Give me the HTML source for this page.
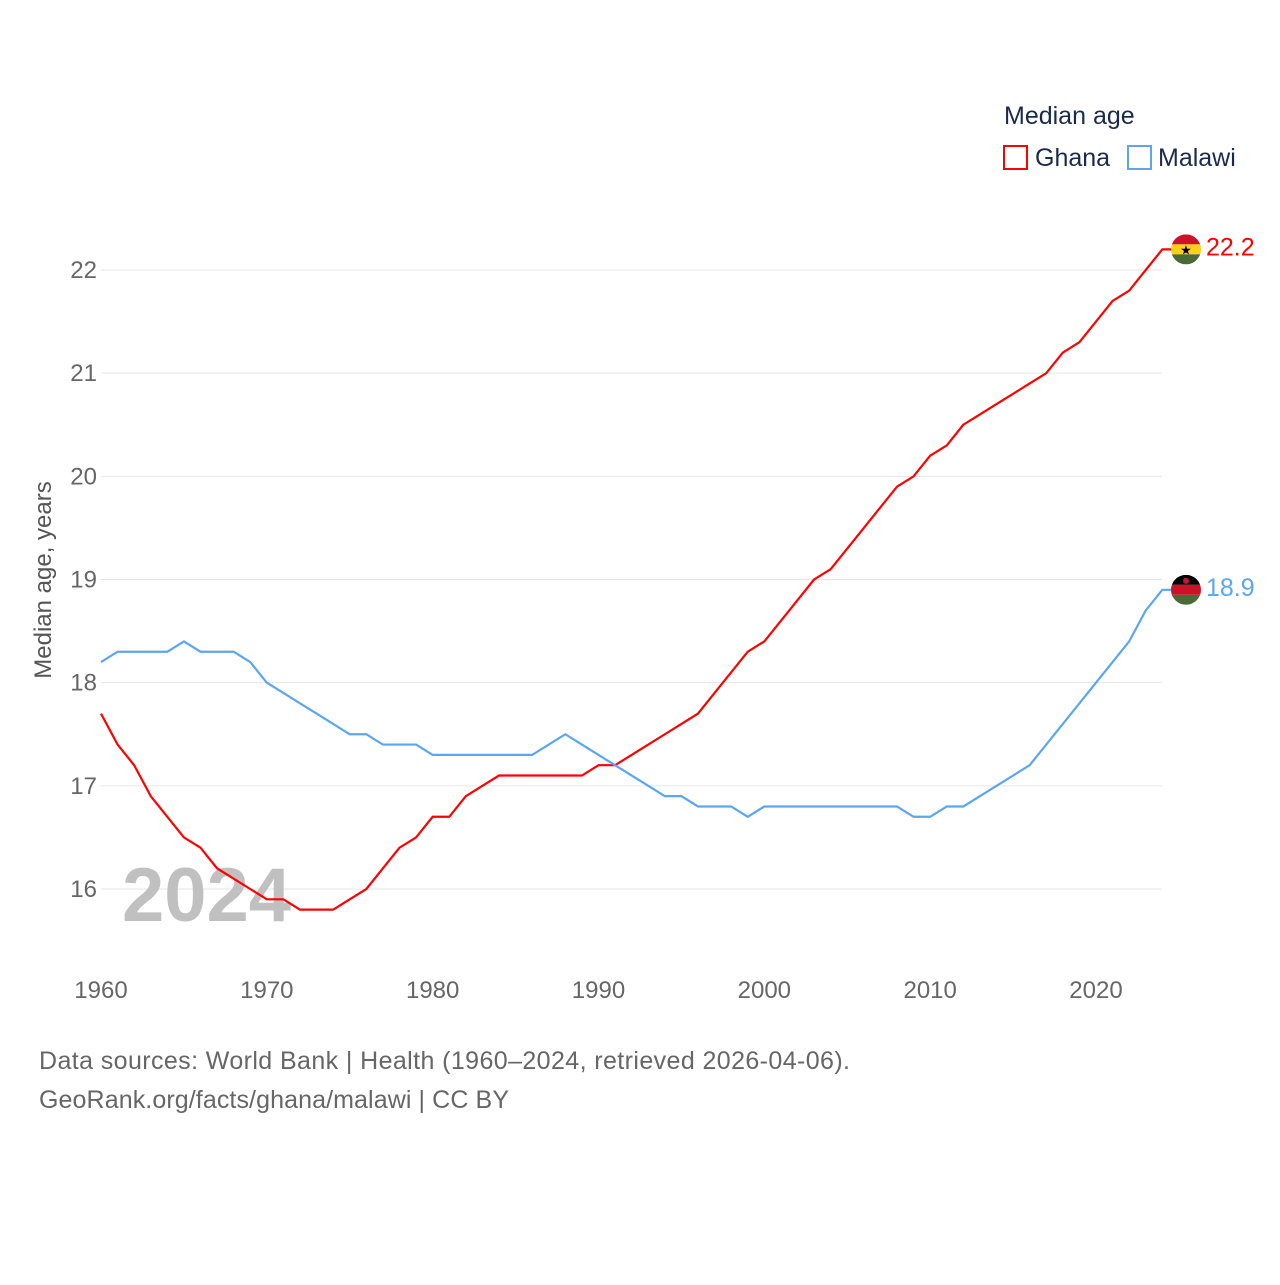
<!DOCTYPE html>
<html><head><meta charset="utf-8">
<style>
body{margin:0;background:#fff;font-family:"Liberation Sans",sans-serif;}
svg text{font-family:"Liberation Sans",sans-serif;}
</style></head>
<body>
<svg id="chart" width="1280" height="1280" viewBox="0 0 1280 1280" xmlns="http://www.w3.org/2000/svg">
<g id="grid"></g>
<g id="yticks"></g>
<g id="xticks"></g>
<text x="122" y="921" font-size="76" font-weight="bold" fill="#c0c0c0">2024</text>
<text transform="translate(51,580) rotate(-90)" text-anchor="middle" font-size="24" fill="#555">Median age, years</text>
<g id="series"></g>
<text x="1004" y="124" font-size="25" fill="#1a2a4a">Median age</text>
<g>
<rect x="1004" y="146" width="23" height="23" fill="none" stroke="#ff0000" stroke-width="2"/>
<text x="1035" y="166" font-size="25" fill="#1a2a4a">Ghana</text></g>
<g>
<rect x="1128" y="146" width="23" height="23" fill="none" stroke="#5ba6ee" stroke-width="2"/>
<text x="1158" y="166" font-size="25" fill="#1a2a4a">Malawi</text></g>
<text x="39" y="1069" font-size="25" fill="#666" textLength="811">Data sources: World Bank | Health (1960–2024, retrieved 2026-04-06).</text>
<text x="39" y="1108" font-size="25" fill="#666" textLength="470">GeoRank.org/facts/ghana/malawi | CC BY</text>
</svg>
<script>
const years=[];for(let y=1960;y<=2024;y++)years.push(y);
const ghana=[17.7,17.4,17.2,16.9,16.7,16.5,16.4,16.2,16.1,16.0,15.9,15.9,15.8,15.8,15.8,15.9,16.0,16.2,16.4,16.5,16.7,16.7,16.9,17.0,17.1,17.1,17.1,17.1,17.1,17.1,17.2,17.2,17.3,17.4,17.5,17.6,17.7,17.9,18.1,18.3,18.4,18.6,18.8,19.0,19.1,19.3,19.5,19.7,19.9,20.0,20.2,20.3,20.5,20.6,20.7,20.8,20.9,21.0,21.2,21.3,21.5,21.7,21.8,22.0,22.2];
const malawi=[18.2,18.3,18.3,18.3,18.3,18.4,18.3,18.3,18.3,18.2,18.0,17.9,17.8,17.7,17.6,17.5,17.5,17.4,17.4,17.4,17.3,17.3,17.3,17.3,17.3,17.3,17.3,17.4,17.5,17.4,17.3,17.2,17.1,17.0,16.9,16.9,16.8,16.8,16.8,16.7,16.8,16.8,16.8,16.8,16.8,16.8,16.8,16.8,16.8,16.7,16.7,16.8,16.8,16.9,17.0,17.1,17.2,17.4,17.6,17.8,18.0,18.2,18.4,18.7,18.9];
const yTicks=[16,17,18,19,20,21,22];
const xTicks=[1960,1970,1980,1990,2000,2010,2020];
const X=y=>101+(y-1960)*(1096-101)/60;
const Y=v=>889-(v-16)*(889-270)/6;
const NS="http://www.w3.org/2000/svg";
function mk(t,a,p){const e=document.createElementNS(NS,t);for(const k in a)e.setAttribute(k,a[k]);p.appendChild(e);return e;}
const grid=document.getElementById('grid'),yt=document.getElementById('yticks'),xt=document.getElementById('xticks'),ser=document.getElementById('series');
yTicks.forEach(v=>{
 const l=mk('line',{x1:101,x2:1162,y1:Y(v),y2:Y(v),stroke:'#e6e6e6','stroke-width':1},grid);
 
 
 const t=mk('text',{x:97,y:Y(v)+8,'text-anchor':'end','font-size':24,fill:'#666'},yt);
 t.textContent=v;
 
 
});
xTicks.forEach(v=>{
 const t=mk('text',{x:X(v),y:998,'text-anchor':'middle','font-size':24,fill:'#666'},xt);
 t.textContent=v;
 
 
});
function line(vals,color,name,label,flag){
 const pts=vals.map((v,i)=>X(years[i])+','+Y(v));
 const lv=vals[vals.length-1];
 pts.push((X(2024)+10)+','+Y(lv));
 const p=mk('polyline',{points:pts.join(' '),fill:'none',stroke:color,'stroke-width':2.2},ser);
 
 
 const g=mk('g',{},ser);
 
 
 const cx=1186,cy=Y(lv);
 const cp=mk('clipPath',{id:'c'+name},g);mk('circle',{cx:cx,cy:cy,r:15},cp);
 const f=mk('g',{'clip-path':'url(#c'+name+')'},g);
 flag.forEach((c,i)=>mk('rect',{x:cx-15,y:cy-15+i*10,width:30,height:10,fill:c},f));
 if(name==='ghana'){const s=mk('text',{x:cx,y:cy+5,'text-anchor':'middle','font-size':13,fill:'#000'},f);s.textContent='★';}
 if(name==='malawi'){mk('circle',{cx:cx,cy:cy-9,r:3,fill:'#d21034'},f);}
 const t=mk('text',{x:1206,y:cy+6,'font-size':25,fill:color},ser);
 t.textContent=lv.toFixed(1);
 
 
}
line(ghana,'#ff0000','ghana','',['#ce1126','#fcd116','#4a6b35']);
line(malawi,'#5ba6ee','malawi','',['#000000','#ce1126','#4a6b35']);
</script>
</body></html>
